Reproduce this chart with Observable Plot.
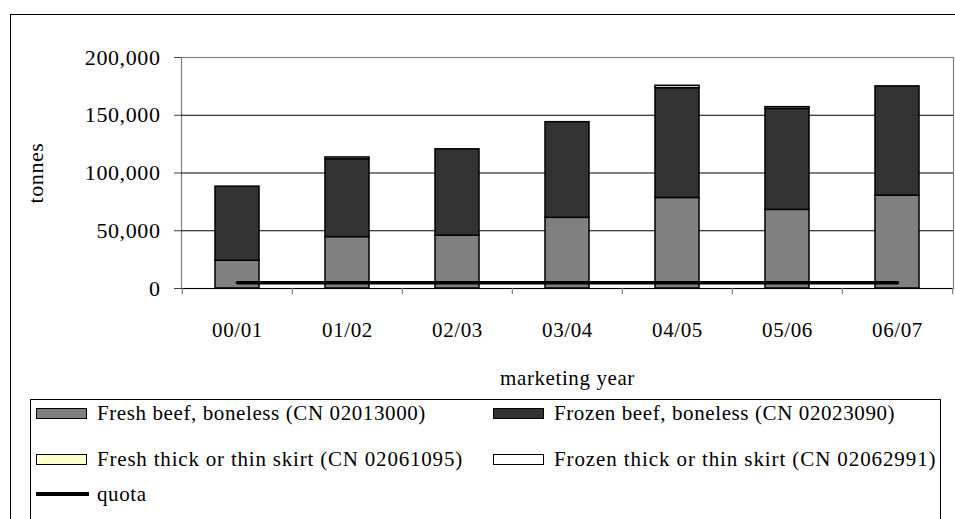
<!DOCTYPE html>
<html>
<head>
<meta charset="utf-8">
<script src="https://cdn.jsdelivr.net/npm/d3@7"></script>
<script src="https://cdn.jsdelivr.net/npm/@observablehq/plot@0.6"></script>
<style>
  html, body { margin: 0; padding: 0; background: #fff; overflow: hidden; }
  #wrap { position: relative; width: 955px; height: 519px; overflow: hidden; font-family: "Liberation Serif", "Times New Roman", serif; }
  #frame { position: absolute; left: 10px; top: 14px; width: 980px; height: 600px; border: 1.5px solid #000; box-sizing: border-box; }
  #chart { position: absolute; left: 0; top: 0; }
  #legend { position: absolute; left: 30px; top: 399px; width: 911px; height: 200px; border: 1.5px solid #000; box-sizing: border-box; overflow: hidden; }
  .item { position: absolute; height: 24px; display: flex; align-items: center; white-space: nowrap; font-size: 21px; letter-spacing: 0.6px; color: #000; }
  .sw { width: 51px; height: 11px; border: 1.5px solid #000; box-sizing: border-box; margin-right: 10px; flex: none; }
  .ln { width: 53px; height: 3.5px; background: #000; margin-right: 8px; flex: none; }
</style>
</head>
<body>
<div id="wrap">
  <div id="frame"></div>
  <div id="chart"></div>
  <div id="legend"></div>
</div>
<script>
// ---- data ----
const years = ["00/01", "01/02", "02/03", "03/04", "04/05", "05/06", "06/07"];
const freshBeef   = [24000, 44500, 45700, 61200, 78400, 68100, 80400];
const frozenBeef  = [64200, 67500, 74800, 82800, 95100, 87400, 94600];
const freshSkirt  = [0, 0, 0, 0, 0, 0, 0];
const frozenSkirt = [0, 1500, 0, 0, 2000, 1500, 0];
const quota       = [5000, 5000, 5000, 5000, 5000, 5000, 5000];
const seriesNames = [
  "Fresh beef, boneless (CN 02013000)",
  "Frozen beef, boneless (CN 02023090)",
  "Fresh thick or thin skirt (CN 02061095)",
  "Frozen thick or thin skirt (CN 02062991)"
];
const seriesColors = ["#808080", "#333333", "#ffffcc", "#ffffff"];
const quotaName = "quota";
const yTicks = [0, 50000, 100000, 150000, 200000];
const gridTicks = [50000, 100000, 150000];

// ---- tables ----
const seriesValues = [freshBeef, frozenBeef, freshSkirt, frozenSkirt];
const rows = [];
years.forEach((yr, i) => {
  seriesValues.forEach((arr, j) => rows.push({year: yr, series: seriesNames[j], value: arr[i]}));
});
const quotaRows = years.map((yr, i) => ({year: yr, q: quota[i]}));

const W = 955, mL = 181, mR = 2;
const step = (W - mL - mR) / years.length;

const chart = Plot.plot({
  width: W,
  height: 400,
  marginLeft: mL,
  marginRight: mR,
  marginTop: 57,
  marginBottom: 112,
  style: {fontFamily: "'Liberation Serif', serif", fontSize: "21px", background: "transparent", color: "#000", letterSpacing: "0.6px"},
  x: {domain: years, paddingInner: 0.6, paddingOuter: 0.3},
  y: {domain: [0, 200000]},
  color: {domain: seriesNames, range: seriesColors},
  marks: [
    Plot.frame({stroke: "#808080", strokeWidth: 1.2}),
    Plot.gridY(gridTicks, {stroke: "#000", strokeOpacity: 1, strokeWidth: 1.2}),
    Plot.barY(rows, Plot.stackY({x: "year", y: "value", fill: "series", stroke: "#000", strokeWidth: 1.5})),
    Plot.lineY(quotaRows, {x: "year", y: "q", stroke: "#000", strokeWidth: 3.5}),
    Plot.ruleY([0], {stroke: "#000", strokeWidth: 1.2}),
    Plot.ruleX(years, {x: d => d, dx: -step / 2, y1: 0, y2: -5500, stroke: "#808080", strokeWidth: 1.2}),
    Plot.ruleX([years[years.length - 1]], {x: d => d, dx: step / 2, y1: 0, y2: -5500, stroke: "#808080", strokeWidth: 1.2}),
    Plot.axisY(yTicks, {
      tickFormat: d3.format(","), tickSize: 7, tickPadding: 14, stroke: "#444",
      fontSize: 22,
      label: "tonnes", labelAnchor: "center", labelArrow: "none", labelOffset: 154
    }),
    Plot.axisX({
      tickSize: 0, tickPadding: 34,
      label: "marketing year", labelAnchor: "center", labelArrow: "none", labelOffset: 96
    })
  ]
});
document.getElementById("chart").appendChild(chart);

// ---- legend (HTML) ----
const legend = document.getElementById("legend");
const pos = [
  {left: 5, top: 1, ls: 0.6},
  {left: 462, top: 1, ls: 0.6},
  {left: 5, top: 47, ls: 0.8},
  {left: 462, top: 47, ls: 0.9}
];
seriesNames.forEach((name, i) => {
  const it = document.createElement("div");
  it.className = "item";
  it.style.left = pos[i].left + "px";
  it.style.top = pos[i].top + "px";
  it.style.letterSpacing = pos[i].ls + "px";
  const sw = document.createElement("div");
  sw.className = "sw";
  sw.style.background = seriesColors[i];
  const tx = document.createElement("span");
  tx.textContent = name;
  it.appendChild(sw);
  it.appendChild(tx);
  legend.appendChild(it);
});
const qi = document.createElement("div");
qi.className = "item";
qi.style.left = "5px";
qi.style.top = "82px";
const ln = document.createElement("div");
ln.className = "ln";
const qt = document.createElement("span");
qt.textContent = quotaName;
qi.appendChild(ln);
qi.appendChild(qt);
legend.appendChild(qi);
</script>
</body>
</html>
